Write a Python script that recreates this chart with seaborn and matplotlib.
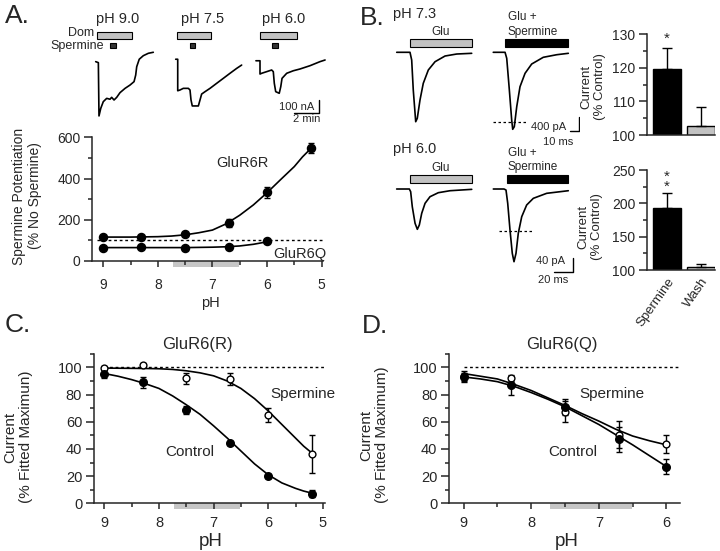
import numpy as np
import pandas as pd
import seaborn as sns
import matplotlib.pyplot as plt
from matplotlib.patches import Rectangle
from matplotlib.ticker import MultipleLocator

W, H = 720, 551

# ── A. spermine potentiation vs pH ─────────────────────────────
ph_a = [9.0, 8.3, 7.5, 6.7, 6.0, 5.2]
pot_r = [114, 115, 132, 186, 333, 548]
pot_r_err = [5, 5, 6, 20, 25, 25]
ph_q = [9.0, 8.3, 7.5, 6.7, 6.0]
pot_q = [64, 66, 65, 68, 95]
pot_q_err = [5, 5, 5, 5, 8]
fit_ph_r = [9, 8.75, 8.5, 8.25, 8, 7.75, 7.5, 7.25, 7, 6.75, 6.5, 6.25, 6, 5.75, 5.5, 5.35, 5.2]
fit_r = [116, 116, 116, 117, 118, 121, 127, 137, 150, 180, 222, 272, 331, 395, 458, 505, 545]
fit_ph_q = [9, 8.5, 8, 7.5, 7, 6.75, 6.5, 6.25, 6]
fit_q = [65, 65, 65, 65, 67, 69, 73, 81, 93]

# A traces (time in min, current in nA)
a_t1 = [0.45, 0.66, 0.71, 0.85, 1.05, 1.32, 1.58, 1.71, 1.90, 2.11, 2.37, 2.77, 3.16, 3.48, 3.61, 3.69, 3.89, 4.21, 4.61, 5.00]
a_i1 = [-92, -100, -521, -461, -408, -382, -389, -374, -395, -374, -337, -303, -277, -250, -198, -132, -73, -45, -26, -18]
a_t2 = [6.77, 6.93, 6.93, 7.11, 7.37, 7.77, 7.90, 7.98, 8.08, 8.56, 8.69, 8.82, 9.09, 9.48, 10.01, 10.53, 11.06, 11.59, 11.98]
a_i2 = [-73, -73, -322, -316, -303, -303, -316, -395, -442, -442, -395, -348, -329, -303, -263, -224, -184, -145, -119]
a_t3 = [13.11, 13.43, 13.43, 13.56, 13.96, 14.35, 14.48, 14.56, 14.67, 14.95, 15.07, 15.17, 15.54, 16.06, 16.59, 17.38, 18.17, 18.57]
a_i3 = [-85, -85, -190, -184, -171, -158, -171, -263, -329, -342, -290, -224, -184, -164, -150, -124, -92, -79]

# ── B. glutamate currents (time in ms, current in pA) ──────────
b_t1 = [7.2, 21.4, 23.2, 24.9, 27.5, 29.2, 32.1, 35.6, 41.0, 48.2, 58.9, 71.4, 87.4]
b_i1 = [0, 0, -220, -1078, -1985, -1888, -1364, -887, -506, -269, -106, -49, -29]
b_t2 = [110.5, 123.1, 124.9, 127.7, 130.2, 131.3, 133.0, 135.6, 139.1, 144.5, 151.6, 164.0, 178.4, 190.8]
b_i2 = [0, 0, -172, -1078, -1936, -2202, -2128, -1556, -984, -601, -335, -143, -69, -29]
b_t3 = [7.0, 20.3, 21.7, 23.4, 26.3, 28.7, 30.8, 33.3, 36.8, 42.0, 50.7, 63.0, 85.8]
b_i3 = [0, 0, -7.9, -51.7, -100, -117.7, -105, -71, -41.8, -22.5, -10.8, -5, -1]
b_t4 = [108.5, 119.7, 121.8, 123.6, 126.0, 128.4, 130.2, 132.3, 134.7, 138.3, 143.5, 150.5, 164.5, 187.2]
b_i4 = [0, 0, -2.9, -41.8, -119.7, -187.8, -212.3, -187.8, -129.4, -80.9, -46.7, -27.2, -12.6, -5]

bar_cats = ['Spermine', 'Wash']
bar_73 = [119.5, 102.7]
bar_73_err = [6.2, 5.5]
bar_60 = [192.5, 104]
bar_60_err = [22.5, 5]

# ── C / D. normalised current vs pH ────────────────────────────
ph_c = [9.0, 8.3, 7.5, 6.7, 6.0, 5.2]
c_ctrl = [95, 89, 68.5, 44.5, 20.3, 7]
c_ctrl_err = [3, 4, 3, 1.5, 1.5, 2.5]
c_sperm = [99.5, 101.7, 92, 91.4, 65, 36.5]
c_sperm_err = [1.5, 1.5, 4, 4.5, 5, 14]
fit_ph_c = [9, 8.75, 8.5, 8.25, 8, 7.75, 7.5, 7.25, 7, 6.75, 6.5, 6.25, 6, 5.75, 5.5, 5.35, 5.2]
fit_c_ctrl = [95.5, 93.5, 91, 88, 84.5, 79, 72.5, 65.5, 57, 48, 38.5, 29, 21, 15, 11, 9, 7.5]
fit_c_sperm = [99.5, 99.4, 99.3, 99.2, 99, 98.5, 97.5, 96, 93.8, 90, 84.5, 77, 68, 58, 48, 42, 37]

ph_d = [9.0, 8.3, 7.5, 6.7, 6.0]
d_ctrl = [93, 87, 71, 47, 27]
d_ctrl_err = [3, 7.5, 6, 9, 5.5]
d_sperm = [93.3, 92, 67.5, 50.5, 43.5]
d_sperm_err = [4, 2, 8, 10, 6.5]
fit_ph_d = [9, 8.75, 8.5, 8.25, 8, 7.75, 7.5, 7.25, 7, 6.75, 6.5, 6.25, 6]
fit_d_ctrl = [93, 91.5, 89.5, 86, 81.5, 76.5, 71, 64.5, 58, 50.5, 43, 35, 27]
fit_d_sperm = [95.5, 93.5, 91.5, 87.5, 83, 77.5, 72, 66, 60.5, 54.5, 49.5, 46, 43]

sns.set_theme(style='ticks')
plt.rcParams['font.family'] = ['Liberation Sans', 'DejaVu Sans']

fig = plt.figure(figsize=(7.2, 5.51), dpi=100)


def px_axes(x0, y0, x1, y1):
    return fig.add_axes([x0 / W, 1 - y1 / H, (x1 - x0) / W, (y1 - y0) / H])


def style(ax, size=10, xpad=5):
    sns.despine(ax=ax)
    for s in ['left', 'bottom']:
        ax.spines[s].set_linewidth(1.1)
    ax.tick_params(axis='y', which='major', length=5.5, width=1.1, labelsize=size, pad=3)
    ax.tick_params(axis='y', which='minor', length=3, width=1.1)
    ax.tick_params(axis='x', which='major', length=4.5, width=1.1, labelsize=size, pad=xpad)
    ax.tick_params(axis='x', which='minor', length=3, width=1.1)


def ph_band(ax, frac):
    ax.add_patch(Rectangle((7.72, -frac), -1.21, frac, transform=ax.get_xaxis_transform(),
                           color='#c6c6c6', lw=0, clip_on=False, zorder=0.5))


def xy_series(ax, ph, vals, err, fph, fvals, filled, s):
    ax.errorbar(ph, vals, yerr=err, fmt='none', ecolor='black', elinewidth=1,
                capsize=2.5, capthick=1, zorder=3)
    sns.lineplot(x=fph, y=fvals, color='black', lw=1.2, sort=False, estimator=None,
                 ax=ax, zorder=2)
    sns.scatterplot(x=ph, y=vals, s=s, color='black' if filled else 'white',
                    edgecolor='black', linewidth=1, ax=ax, zorder=4, legend=False)


# ── panel A plot ───────────────────────────────────────────────
ax = px_axes(92.3, 137.3, 322.7, 261)
xy_series(ax, ph_a, pot_r, pot_r_err, fit_ph_r, fit_r, True, 34)
xy_series(ax, ph_q, pot_q, pot_q_err, fit_ph_q, fit_q, True, 34)
ax.plot([9.12, 5.0], [100, 100], ls=(0, (2, 2)), color='black', lw=1)
ax.set_xlim(9.2, 4.98)
ax.set_ylim(0, 600)
ax.xaxis.set_major_locator(MultipleLocator(1))
ax.xaxis.set_minor_locator(MultipleLocator(0.5))
ax.yaxis.set_major_locator(MultipleLocator(200))
ax.yaxis.set_minor_locator(MultipleLocator(100))
style(ax, 10, 8)
ph_band(ax, 0.048)
ax.text(6.45, 474, 'GluR6R', ha='center', va='center', fontsize=10.5)
ax.text(5.40, 32, 'GluR6Q', ha='center', va='center', fontsize=10.5)

# A traces
ax = px_axes(90, 50, 330, 125)
for t, i in [(a_t1, a_i1), (a_t2, a_i2), (a_t3, a_i3)]:
    ax.plot(t, i, color='black', lw=1.2)
ax.plot([16.13, 18.13, 18.13], [-495, -495, -395], color='black', lw=1)
ax.set_xlim(0, 18.96)
ax.set_ylim(-592.5, 0)
ax.axis('off')

# ── panel B traces ─────────────────────────────────────────────
ax = px_axes(390, 48, 580, 135)
ax.plot(b_t1, b_i1, color='black', lw=1.2)
ax.plot(b_t2, b_i2, color='black', lw=1.2)
ax.plot([110.5, 146.3], [-2002, -2002], ls=(0, (2, 2)), color='black', lw=0.9)
ax.plot([192.6, 202.6, 202.6], [-2242, -2242, -1842], color='black', lw=1)
ax.set_xlim(0, 203.3)
ax.set_ylim(-2365, 123)
ax.axis('off')

ax = px_axes(390, 185, 580, 275)
ax.plot(b_t3, b_i3, color='black', lw=1.2)
ax.plot(b_t4, b_i4, color='black', lw=1.2)
ax.plot([114.8, 148.8], [-121.8, -121.8], ls=(0, (2, 2)), color='black', lw=0.9)
ax.plot([172.2, 191.8, 191.8], [-241.5, -241.5, -201.5], color='black', lw=1)
ax.set_xlim(0, 199.5)
ax.set_ylim(-251.1, 11.7)
ax.axis('off')

# ── panel B bars ───────────────────────────────────────────────
for (y0, y1), vals, errs, lim, major, minor, show in [
        ((34, 135), bar_73, bar_73_err, (100, 130), 10, 5, False),
        ((170, 270), bar_60, bar_60_err, (100, 250), 50, 25, True)]:
    ax = px_axes(647, y0, 715, y1)
    sns.barplot(x=bar_cats, y=vals, hue=bar_cats, palette=['black', '#c2c2c2'],
                edgecolor='black', linewidth=1, width=0.81, legend=False, ax=ax)
    ax.errorbar([0, 1], vals, yerr=[[0, 0], errs], fmt='none', ecolor='black',
                elinewidth=1, capsize=3.5, capthick=1, zorder=3)
    ax.set_xlim(-0.58, 1.41)
    ax.set_ylim(*lim)
    ax.yaxis.set_major_locator(MultipleLocator(major))
    ax.yaxis.set_minor_locator(MultipleLocator(minor))
    style(ax, 10)
    ax.tick_params(axis='x', length=0, pad=4)
    ax.set_xlabel('')
    ax.set_ylabel('')
    if show:
        ax.set_xticks([0, 1])
        ax.set_xticklabels(bar_cats, rotation=55, ha='right', rotation_mode='anchor',
                           fontsize=9.5)
    else:
        ax.set_xticks([])

# ── panels C and D ─────────────────────────────────────────────
for box, ph, ctrl, cerr, sp, serr, fph, fc, fs, xlim, lab in [
        ((94, 353.8, 325, 503.3), ph_c, c_ctrl, c_ctrl_err, c_sperm, c_sperm_err,
         fit_ph_c, fit_c_ctrl, fit_c_sperm, (9.19, 4.96), (5.36, 7.43)),
        ((449.3, 353.8, 680, 503.3), ph_d, d_ctrl, d_ctrl_err, d_sperm, d_sperm_err,
         fit_ph_d, fit_d_ctrl, fit_d_sperm, (9.21, 5.80), (6.81, 7.38))]:
    ax = px_axes(*box)
    xy_series(ax, ph, sp, serr, fph, fs, False, 24)
    xy_series(ax, ph, ctrl, cerr, fph, fc, True, 30)
    ax.plot([ph[0], xlim[1] + 0.02], [100, 100], ls=(0, (2, 2)), color='black', lw=1)
    ax.set_xlim(*xlim)
    ax.set_ylim(0, 110)
    ax.xaxis.set_major_locator(MultipleLocator(1))
    ax.xaxis.set_minor_locator(MultipleLocator(0.5))
    ax.yaxis.set_major_locator(MultipleLocator(20))
    ax.yaxis.set_minor_locator(MultipleLocator(10))
    style(ax, 10.5, 5)
    ph_band(ax, 0.037)
    ax.text(lab[0], 80.2, 'Spermine', ha='center', va='center', fontsize=11)
    ax.text(lab[1], 38, 'Control', ha='center', va='center', fontsize=11)

# ── labels, stimulus bars, panel letters ───────────────────────
ov = fig.add_axes([0, 0, 1, 1])
ov.set_xlim(0, W)
ov.set_ylim(H, 0)
ov.axis('off')
ov.patch.set_alpha(0)

for x0, x1 in [(96.7, 132.3), (177.3, 210.7), (260, 297.3)]:
    ov.add_patch(Rectangle((x0, 31.7), x1 - x0, 7.3, facecolor='#c2c2c2', edgecolor='black', lw=0.8))
for x0, x1 in [(110, 115.7), (190, 195.3), (272.3, 278.3)]:
    ov.add_patch(Rectangle((x0, 42.7), x1 - x0, 5.6, facecolor='#333333', edgecolor='black', lw=0.8))
for x0, x1, y0, c in [(410, 471.7, 39, '#c2c2c2'), (505, 568, 39, 'black'),
                      (410, 471.7, 175, '#c2c2c2'), (506.7, 568.3, 175, 'black')]:
    ov.add_patch(Rectangle((x0, y0), x1 - x0, 7.5, facecolor=c, edgecolor='black', lw=0.8))

txt = dict(va='baseline')
ov.text(5, 23, 'A.', fontsize=19, **txt)
ov.text(360, 25, 'B.', fontsize=19, **txt)
ov.text(5, 331.7, 'C.', fontsize=19, **txt)
ov.text(362, 333, 'D.', fontsize=19, **txt)

for x, s in [(118, 'pH 9.0'), (202.5, 'pH 7.5'), (283.3, 'pH 6.0')]:
    ov.text(x, 23.3, s, ha='center', fontsize=10.5, **txt)
ov.text(94.3, 36.5, 'Dom', ha='right', fontsize=9, **txt)
ov.text(104, 48.5, 'Spermine', ha='right', fontsize=9, **txt)
ov.text(296.7, 110.5, '100 nA', ha='center', fontsize=8, **txt)
ov.text(306.7, 121.5, '2 min', ha='center', fontsize=8, **txt)

ov.text(393, 18.3, 'pH 7.3', fontsize=10.5, **txt)
ov.text(393, 153, 'pH 6.0', fontsize=10.5, **txt)
for yb in [35, 171]:
    ov.text(441, yb, 'Glu', ha='center', fontsize=8.5, **txt)
for y1, y2 in [(20, 35), (156, 170)]:
    ov.text(508, y1, 'Glu +', fontsize=8.5, **txt)
    ov.text(508, y2, 'Spermine', fontsize=8.5, **txt)
ov.text(549, 129.5, '400 pA', ha='center', fontsize=8, **txt)
ov.text(558, 145, '10 ms', ha='center', fontsize=8, **txt)
ov.text(551, 264.5, '40 pA', ha='center', fontsize=8, **txt)
ov.text(553, 283.3, '20 ms', ha='center', fontsize=8, **txt)
ov.text(667, 43, '*', ha='center', fontsize=11, **txt)
ov.text(667, 190.5, '*\n*', ha='center', fontsize=11, linespacing=0.62, **txt)

rot = dict(rotation=90, ha='center', va='center', multialignment='center')
ov.text(27, 196, 'Spermine Potentiation\n(% No Spermine)', fontsize=10, linespacing=1.25, **rot)
ov.text(593, 86.7, 'Current\n(% Control)', fontsize=9.5, linespacing=1.2, **rot)
ov.text(590.5, 226.7, 'Current\n(% Control)', fontsize=9.5, linespacing=1.2, **rot)
ov.text(18, 437, 'Current\n(% Fitted Maximun)', fontsize=11, linespacing=1.2, **rot)
ov.text(374, 435, 'Current\n(% Fitted Maximum)', fontsize=11, linespacing=1.2, **rot)

ov.text(210, 306.7, 'pH', ha='center', fontsize=10.5, **txt)
ov.text(211, 546, 'pH', ha='center', fontsize=13.5, **txt)
ov.text(567, 546, 'pH', ha='center', fontsize=13.5, **txt)
ov.text(197, 349.5, 'GluR6(R)', ha='center', fontsize=12, **txt)
ov.text(562, 349.5, 'GluR6(Q)', ha='center', fontsize=12, **txt)

fig.savefig('out.png', dpi=100)
